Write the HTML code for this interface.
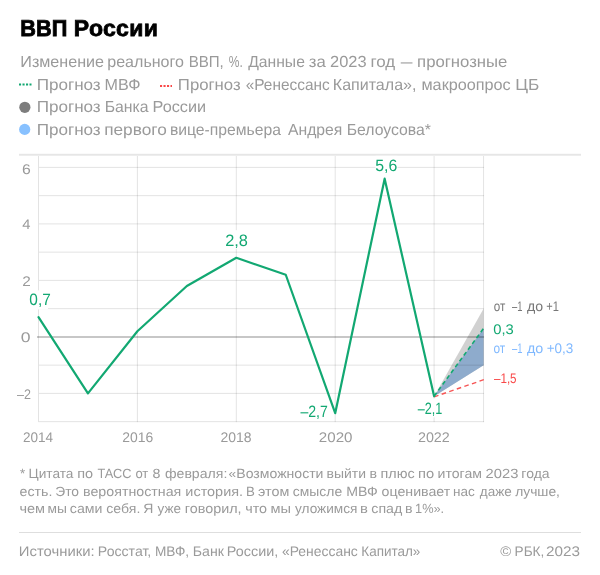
<!DOCTYPE html>
<html><head><meta charset="utf-8">
<style>
html,body{margin:0;padding:0;background:#fff;width:600px;height:575px;overflow:hidden}
svg{display:block;will-change:transform}
text{font-family:"Liberation Sans",sans-serif;text-rendering:geometricPrecision}
</style></head><body>
<svg width="600" height="575" viewBox="0 0 600 575">
<rect width="600" height="575" fill="#fff"/>
<g font-size="23" font-weight="700" fill="#000" stroke="#000" stroke-width="0.8"><text x="20.3" y="36.1" textLength="47" lengthAdjust="spacingAndGlyphs">ВВП</text><text x="73.8" y="36.1" textLength="84" lengthAdjust="spacing">России</text></g>
<text x="20.31" y="66.7" font-size="16" fill="#9a9a9a" textLength="83.76" lengthAdjust="spacingAndGlyphs">Изменение</text>
<text x="107.30" y="66.7" font-size="16" fill="#9a9a9a" textLength="76.61" lengthAdjust="spacingAndGlyphs">реального</text>
<text x="188.70" y="66.7" font-size="16" fill="#9a9a9a" textLength="35.13" lengthAdjust="spacingAndGlyphs">ВВП,</text>
<text x="228.73" y="66.7" font-size="16" fill="#9a9a9a" textLength="14.04" lengthAdjust="spacingAndGlyphs">%.</text>
<text x="248.18" y="66.7" font-size="16" fill="#9a9a9a" textLength="56.69" lengthAdjust="spacingAndGlyphs">Данные</text>
<text x="308.81" y="66.7" font-size="16" fill="#9a9a9a" textLength="16.98" lengthAdjust="spacingAndGlyphs">за</text>
<text x="330.03" y="66.7" font-size="16" fill="#9a9a9a" textLength="36.51" lengthAdjust="spacingAndGlyphs">2023</text>
<text x="370.51" y="66.7" font-size="16" fill="#9a9a9a" textLength="24.75" lengthAdjust="spacingAndGlyphs">год</text>
<text x="400.80" y="66.7" font-size="16" fill="#9a9a9a" textLength="11.70" lengthAdjust="spacingAndGlyphs">—</text>
<text x="417.12" y="66.7" font-size="16" fill="#9a9a9a" textLength="90.28" lengthAdjust="spacingAndGlyphs">прогнозные</text>
<line x1="19" y1="84.5" x2="31.5" y2="84.5" stroke="#12a872" stroke-width="2" stroke-dasharray="2.1 1.4"/>
<text x="36.67" y="90" font-size="16" fill="#9a9a9a" textLength="64.03" lengthAdjust="spacingAndGlyphs">Прогноз</text>
<text x="104.62" y="90" font-size="16" fill="#9a9a9a" textLength="35.87" lengthAdjust="spacingAndGlyphs">МВФ</text>
<line x1="160" y1="86" x2="172" y2="86" stroke="#f94848" stroke-width="2" stroke-dasharray="2.1 1.4"/>
<text x="177.89" y="90" font-size="16" fill="#9a9a9a" textLength="62.79" lengthAdjust="spacingAndGlyphs">Прогноз</text>
<text x="245.70" y="90" font-size="16" fill="#9a9a9a" textLength="83.97" lengthAdjust="spacingAndGlyphs">«Ренессанс</text>
<text x="332.82" y="90" font-size="16" fill="#9a9a9a" textLength="83.63" lengthAdjust="spacingAndGlyphs">Капитала»,</text>
<text x="421.46" y="90" font-size="16" fill="#9a9a9a" textLength="89.28" lengthAdjust="spacingAndGlyphs">макроопрос</text>
<text x="515.32" y="90" font-size="16" fill="#9a9a9a" textLength="24.08" lengthAdjust="spacingAndGlyphs">ЦБ</text>
<circle cx="24.85" cy="107.3" r="5.6" fill="#7d7d7d"/>
<text x="36.67" y="112.1" font-size="16" fill="#9a9a9a" textLength="64.03" lengthAdjust="spacingAndGlyphs">Прогноз</text>
<text x="104.64" y="112.1" font-size="16" fill="#9a9a9a" textLength="43.94" lengthAdjust="spacingAndGlyphs">Банка</text>
<text x="152.60" y="112.1" font-size="16" fill="#9a9a9a" textLength="53.53" lengthAdjust="spacingAndGlyphs">России</text>
<circle cx="24.7" cy="129.4" r="5.6" fill="#88c1ff"/>
<text x="36.67" y="134.7" font-size="16" fill="#9a9a9a" textLength="64.03" lengthAdjust="spacingAndGlyphs">Прогноз</text>
<text x="104.19" y="134.7" font-size="16" fill="#9a9a9a" textLength="62.55" lengthAdjust="spacingAndGlyphs">первого</text>
<text x="169.90" y="134.7" font-size="16" fill="#9a9a9a" textLength="111.12" lengthAdjust="spacingAndGlyphs">вице-премьера</text>
<text x="288.00" y="134.7" font-size="16" fill="#9a9a9a" textLength="54.34" lengthAdjust="spacingAndGlyphs">Андрея</text>
<text x="346.64" y="134.7" font-size="16" fill="#9a9a9a" textLength="84.37" lengthAdjust="spacingAndGlyphs">Белоусова*</text>
<rect x="19" y="153.8" width="562" height="1.9" fill="#e6e6e6"/>
<polygon points="434.10,396.22 483.55,308.65 483.55,365.15" fill="#000" fill-opacity="0.18"/>
<polygon points="434.10,396.22 483.55,328.42 483.55,365.15" fill="#8eabcc"/>
<g stroke="#000" stroke-opacity="0.11" stroke-width="1">
<line x1="39.00" y1="167.40" x2="484.05" y2="167.40"/>
<line x1="39.00" y1="195.65" x2="484.05" y2="195.65"/>
<line x1="39.00" y1="223.90" x2="484.05" y2="223.90"/>
<line x1="39.00" y1="252.15" x2="484.05" y2="252.15"/>
<line x1="39.00" y1="280.40" x2="484.05" y2="280.40"/>
<line x1="39.00" y1="308.65" x2="484.05" y2="308.65"/>
<line x1="39.00" y1="365.15" x2="484.05" y2="365.15"/>
<line x1="39.00" y1="393.40" x2="484.05" y2="393.40"/>
<line x1="39.00" y1="421.65" x2="484.05" y2="421.65"/>
<line x1="38.50" y1="156" x2="38.50" y2="422.15"/>
<line x1="137.40" y1="156" x2="137.40" y2="422.15"/>
<line x1="236.30" y1="156" x2="236.30" y2="422.15"/>
<line x1="335.20" y1="156" x2="335.20" y2="422.15"/>
<line x1="434.10" y1="156" x2="434.10" y2="422.15"/>
<line x1="483.55" y1="156" x2="483.55" y2="422.15"/>
</g>
<rect x="37" y="336" width="447.05" height="2" fill="#000" fill-opacity="0.22"/>
<text x="21.95" y="174.1" font-size="14" fill="#9a9a9a" textLength="8.79" lengthAdjust="spacingAndGlyphs">6</text>
<text x="22.20" y="228.7" font-size="14" fill="#9a9a9a" textLength="8.23" lengthAdjust="spacingAndGlyphs">4</text>
<text x="22.18" y="285.6" font-size="14" fill="#9a9a9a" textLength="8.55" lengthAdjust="spacingAndGlyphs">2</text>
<text x="20.87" y="341.9" font-size="14" fill="#9a9a9a" textLength="9.81" lengthAdjust="spacingAndGlyphs">0</text>
<text x="17.00" y="398.6" font-size="14" fill="#9a9a9a" textLength="13.92" lengthAdjust="spacingAndGlyphs">–2</text>
<text x="22.97" y="441.7" font-size="14" fill="#9a9a9a" textLength="30.11" lengthAdjust="spacingAndGlyphs">2014</text>
<text x="122.25" y="441.7" font-size="14" fill="#9a9a9a" textLength="30.99" lengthAdjust="spacingAndGlyphs">2016</text>
<text x="220.55" y="441.7" font-size="14" fill="#9a9a9a" textLength="31.09" lengthAdjust="spacingAndGlyphs">2018</text>
<text x="318.89" y="441.7" font-size="14" fill="#9a9a9a" textLength="33.67" lengthAdjust="spacingAndGlyphs">2020</text>
<text x="417.93" y="441.7" font-size="14" fill="#9a9a9a" textLength="31.85" lengthAdjust="spacingAndGlyphs">2022</text>
<line x1="434.10" y1="396.82" x2="483.95" y2="379.67" stroke="#f65555" stroke-width="1.4" stroke-dasharray="4.6 3.4"/>
<line x1="434.10" y1="396.22" x2="483.55" y2="328.42" stroke="#12a872" stroke-width="1.6" stroke-dasharray="4.2 3"/>
<polyline points="38.50,317.12 87.95,393.40 137.40,331.25 186.85,286.05 236.30,257.80 285.75,274.75 335.20,413.17 384.65,178.70 434.10,396.22" fill="none" stroke="#12a872" stroke-width="2.2" stroke-linejoin="round" stroke-linecap="round"/>
<rect x="28" y="290.4" width="20" height="19" fill="#fff"/>
<rect x="225" y="230.2" width="23" height="18.5" fill="#fff"/>
<rect x="375.5" y="155.8" width="22" height="18.2" fill="#fff"/>
<rect x="416.5" y="398.6" width="26.5" height="18.8" fill="#fff"/>
<text x="29.32" y="305.3" font-size="16.5" fill="#12a872" textLength="21.44" lengthAdjust="spacingAndGlyphs">0,7</text>
<text x="225.23" y="245.8" font-size="16.5" fill="#12a872" textLength="22.75" lengthAdjust="spacingAndGlyphs">2,8</text>
<text x="375.28" y="170.8" font-size="16.5" fill="#12a872" textLength="22.08" lengthAdjust="spacingAndGlyphs">5,6</text>
<text x="300.40" y="417.2" font-size="16.5" fill="#12a872" textLength="27.44" lengthAdjust="spacingAndGlyphs">–2,7</text>
<text x="417.80" y="413.7" font-size="16.5" fill="#12a872" textLength="24.56" lengthAdjust="spacingAndGlyphs">–2,1</text>
<text x="493.68" y="310.9" font-size="14" fill="#777" textLength="11.54" lengthAdjust="spacingAndGlyphs">от</text>
<text x="512.00" y="310.9" font-size="14" fill="#777" textLength="10.47" lengthAdjust="spacingAndGlyphs">–1</text>
<text x="526.97" y="310.9" font-size="14" fill="#777" textLength="16.11" lengthAdjust="spacingAndGlyphs">до</text>
<text x="546.20" y="310.9" font-size="14" fill="#777" textLength="12.66" lengthAdjust="spacingAndGlyphs">+1</text>
<text x="493.27" y="333.5" font-size="14" fill="#12a872" textLength="20.55" lengthAdjust="spacingAndGlyphs">0,3</text>
<text x="493.47" y="352.9" font-size="14" fill="#80b9ff" textLength="11.75" lengthAdjust="spacingAndGlyphs">от</text>
<text x="512.00" y="352.9" font-size="14" fill="#80b9ff" textLength="10.47" lengthAdjust="spacingAndGlyphs">–1</text>
<text x="526.97" y="352.9" font-size="14" fill="#80b9ff" textLength="16.32" lengthAdjust="spacingAndGlyphs">до</text>
<text x="546.70" y="352.9" font-size="14" fill="#80b9ff" textLength="26.62" lengthAdjust="spacingAndGlyphs">+0,3</text>
<text x="493.90" y="382.8" font-size="14" fill="#f94848" textLength="22.72" lengthAdjust="spacingAndGlyphs">–1,5</text>
<text x="20.05" y="478.3" font-size="13.3" fill="#9a9a9a" textLength="5.12" lengthAdjust="spacingAndGlyphs">*</text>
<text x="28.54" y="478.3" font-size="13.3" fill="#9a9a9a" textLength="44.88" lengthAdjust="spacingAndGlyphs">Цитата</text>
<text x="77.25" y="478.3" font-size="13.3" fill="#9a9a9a" textLength="15.90" lengthAdjust="spacingAndGlyphs">по</text>
<text x="97.46" y="478.3" font-size="13.3" fill="#9a9a9a" textLength="34.11" lengthAdjust="spacingAndGlyphs">ТАСС</text>
<text x="135.38" y="478.3" font-size="13.3" fill="#9a9a9a" textLength="13.01" lengthAdjust="spacingAndGlyphs">от</text>
<text x="152.63" y="478.3" font-size="13.3" fill="#9a9a9a" textLength="7.93" lengthAdjust="spacingAndGlyphs">8</text>
<text x="164.97" y="478.3" font-size="13.3" fill="#9a9a9a" textLength="62.33" lengthAdjust="spacingAndGlyphs">февраля:</text>
<text x="228.47" y="478.3" font-size="13.3" fill="#9a9a9a" textLength="95.01" lengthAdjust="spacingAndGlyphs">«Возможности</text>
<text x="326.58" y="478.3" font-size="13.3" fill="#9a9a9a" textLength="39.41" lengthAdjust="spacingAndGlyphs">выйти</text>
<text x="369.57" y="478.3" font-size="13.3" fill="#9a9a9a" textLength="7.54" lengthAdjust="spacingAndGlyphs">в</text>
<text x="380.56" y="478.3" font-size="13.3" fill="#9a9a9a" textLength="34.11" lengthAdjust="spacingAndGlyphs">плюс</text>
<text x="418.03" y="478.3" font-size="13.3" fill="#9a9a9a" textLength="16.13" lengthAdjust="spacingAndGlyphs">по</text>
<text x="437.57" y="478.3" font-size="13.3" fill="#9a9a9a" textLength="44.34" lengthAdjust="spacingAndGlyphs">итогам</text>
<text x="485.61" y="478.3" font-size="13.3" fill="#9a9a9a" textLength="32.74" lengthAdjust="spacingAndGlyphs">2023</text>
<text x="521.38" y="478.3" font-size="13.3" fill="#9a9a9a" textLength="28.26" lengthAdjust="spacingAndGlyphs">года</text>
<text x="19.64" y="495.8" font-size="13.3" fill="#9a9a9a" textLength="32.71" lengthAdjust="spacingAndGlyphs">есть.</text>
<text x="55.22" y="495.8" font-size="13.3" fill="#9a9a9a" textLength="23.82" lengthAdjust="spacingAndGlyphs">Это</text>
<text x="83.06" y="495.8" font-size="13.3" fill="#9a9a9a" textLength="98.25" lengthAdjust="spacingAndGlyphs">вероятностная</text>
<text x="185.35" y="495.8" font-size="13.3" fill="#9a9a9a" textLength="57.72" lengthAdjust="spacingAndGlyphs">история.</text>
<text x="245.88" y="495.8" font-size="13.3" fill="#9a9a9a" textLength="8.87" lengthAdjust="spacingAndGlyphs">В</text>
<text x="258.09" y="495.8" font-size="13.3" fill="#9a9a9a" textLength="31.32" lengthAdjust="spacingAndGlyphs">этом</text>
<text x="292.85" y="495.8" font-size="13.3" fill="#9a9a9a" textLength="49.34" lengthAdjust="spacingAndGlyphs">смысле</text>
<text x="346.30" y="495.8" font-size="13.3" fill="#9a9a9a" textLength="31.48" lengthAdjust="spacingAndGlyphs">МВФ</text>
<text x="381.63" y="495.8" font-size="13.3" fill="#9a9a9a" textLength="68.65" lengthAdjust="spacingAndGlyphs">оценивает</text>
<text x="453.11" y="495.8" font-size="13.3" fill="#9a9a9a" textLength="21.79" lengthAdjust="spacingAndGlyphs">нас</text>
<text x="479.87" y="495.8" font-size="13.3" fill="#9a9a9a" textLength="32.01" lengthAdjust="spacingAndGlyphs">даже</text>
<text x="515.17" y="495.8" font-size="13.3" fill="#9a9a9a" textLength="44.80" lengthAdjust="spacingAndGlyphs">лучше,</text>
<text x="19.48" y="513.2" font-size="13.3" fill="#9a9a9a" textLength="25.57" lengthAdjust="spacingAndGlyphs">чем</text>
<text x="47.59" y="513.2" font-size="13.3" fill="#9a9a9a" textLength="19.40" lengthAdjust="spacingAndGlyphs">мы</text>
<text x="69.83" y="513.2" font-size="13.3" fill="#9a9a9a" textLength="32.59" lengthAdjust="spacingAndGlyphs">сами</text>
<text x="106.34" y="513.2" font-size="13.3" fill="#9a9a9a" textLength="33.98" lengthAdjust="spacingAndGlyphs">себя.</text>
<text x="143.34" y="513.2" font-size="13.3" fill="#9a9a9a" textLength="10.12" lengthAdjust="spacingAndGlyphs">Я</text>
<text x="157.50" y="513.2" font-size="13.3" fill="#9a9a9a" textLength="23.40" lengthAdjust="spacingAndGlyphs">уже</text>
<text x="184.75" y="513.2" font-size="13.3" fill="#9a9a9a" textLength="56.81" lengthAdjust="spacingAndGlyphs">говорил,</text>
<text x="245.19" y="513.2" font-size="13.3" fill="#9a9a9a" textLength="21.87" lengthAdjust="spacingAndGlyphs">что</text>
<text x="270.54" y="513.2" font-size="13.3" fill="#9a9a9a" textLength="20.50" lengthAdjust="spacingAndGlyphs">мы</text>
<text x="295.00" y="513.2" font-size="13.3" fill="#9a9a9a" textLength="62.48" lengthAdjust="spacingAndGlyphs">уложимся</text>
<text x="360.02" y="513.2" font-size="13.3" fill="#9a9a9a" textLength="7.91" lengthAdjust="spacingAndGlyphs">в</text>
<text x="371.33" y="513.2" font-size="13.3" fill="#9a9a9a" textLength="30.94" lengthAdjust="spacingAndGlyphs">спад</text>
<text x="405.07" y="513.2" font-size="13.3" fill="#9a9a9a" textLength="7.54" lengthAdjust="spacingAndGlyphs">в</text>
<text x="415.04" y="513.2" font-size="13.3" fill="#9a9a9a" textLength="29.10" lengthAdjust="spacingAndGlyphs">1%».</text>
<rect x="19" y="532" width="562" height="1" fill="#dedede"/>
<text x="18.81" y="556" font-size="14" fill="#9a9a9a" textLength="75.79" lengthAdjust="spacingAndGlyphs">Источники:</text>
<text x="97.87" y="556" font-size="14" fill="#9a9a9a" textLength="53.38" lengthAdjust="spacingAndGlyphs">Росстат,</text>
<text x="154.90" y="556" font-size="14" fill="#9a9a9a" textLength="34.27" lengthAdjust="spacingAndGlyphs">МВФ,</text>
<text x="192.87" y="556" font-size="14" fill="#9a9a9a" textLength="31.09" lengthAdjust="spacingAndGlyphs">Банк</text>
<text x="226.84" y="556" font-size="14" fill="#9a9a9a" textLength="51.48" lengthAdjust="spacingAndGlyphs">России,</text>
<text x="281.98" y="556" font-size="14" fill="#9a9a9a" textLength="75.85" lengthAdjust="spacingAndGlyphs">«Ренессанс</text>
<text x="361.32" y="556" font-size="14" fill="#9a9a9a" textLength="59.05" lengthAdjust="spacingAndGlyphs">Капитал»</text>
<text x="500.33" y="556" font-size="14" fill="#9a9a9a" textLength="10.97" lengthAdjust="spacingAndGlyphs">©</text>
<text x="514.60" y="556" font-size="14" fill="#9a9a9a" textLength="29.76" lengthAdjust="spacingAndGlyphs">РБК,</text>
<text x="546.08" y="556" font-size="14" fill="#9a9a9a" textLength="34.02" lengthAdjust="spacingAndGlyphs">2023</text>
</svg>
</body></html>
